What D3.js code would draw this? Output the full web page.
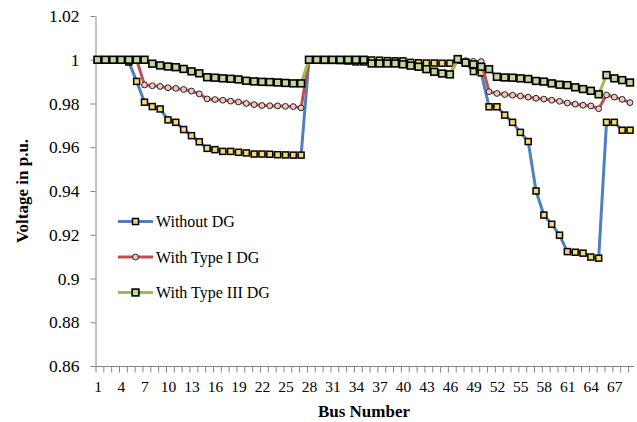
<!DOCTYPE html>
<html>
<head>
<meta charset="utf-8">
<script src="https://cdn.jsdelivr.net/npm/d3@7"></script>
<style>
  body { margin: 0; background: #fff; }
  text { font-family: "Liberation Serif", "Times New Roman", serif; fill: #000; }
</style>
</head>
<body>
<div id="chart"></div>
<script>
// Bus numbers 1..69
const buses = d3.range(1, 70);

// Voltage profiles (p.u.)
const withoutDG = [
  1.0000, 1.0000, 0.9999, 0.9998, 0.9990, 0.9901, 0.9806, 0.9786, 0.9775, 0.9725,
  0.9714, 0.9681, 0.9653, 0.9625, 0.9595, 0.9589, 0.9581, 0.9581, 0.9577, 0.9574,
  0.9569, 0.9569, 0.9568, 0.9566, 0.9565, 0.9564, 0.9564, 0.9999, 0.9999, 0.9997,
  0.9997, 0.9996, 0.9994, 0.9990, 0.9990, 0.9999, 0.9998, 0.9996, 0.9995, 0.9995,
  0.9988, 0.9986, 0.9985, 0.9985, 0.9984, 0.9984, 0.9998, 0.9985, 0.9946, 0.9940,
  0.9785, 0.9785, 0.9747, 0.9714, 0.9668, 0.9626, 0.9400, 0.9290, 0.9248, 0.9198,
  0.9123, 0.9120, 0.9116, 0.9098, 0.9093, 0.9714, 0.9714, 0.9678, 0.9678
];
const withTypeI = [
  1.0000, 1.0000, 1.0000, 1.0000, 1.0000, 1.0000, 0.9885, 0.9881, 0.9878, 0.9872,
  0.9869, 0.9864, 0.9857, 0.9844, 0.9821, 0.9818, 0.9815, 0.9811, 0.9807, 0.9800,
  0.9795, 0.9791, 0.9790, 0.9789, 0.9787, 0.9786, 0.9780, 1.0000, 1.0000, 1.0000,
  1.0000, 1.0000, 1.0000, 1.0000, 1.0000, 0.9984, 0.9984, 0.9984, 0.9984, 0.9979,
  0.9973, 0.9968, 0.9957, 0.9945, 0.9937, 0.9933, 1.0000, 0.9996, 0.9993, 0.9992,
  0.9854, 0.9846, 0.9841, 0.9838, 0.9834, 0.9829, 0.9824, 0.9820, 0.9815, 0.9810,
  0.9802, 0.9797, 0.9792, 0.9789, 0.9776, 0.9839, 0.9829, 0.9819, 0.9804
];
const withTypeIII = [
  1.0000, 1.0000, 1.0000, 1.0000, 1.0000, 1.0000, 1.0000, 0.9982, 0.9974, 0.9969,
  0.9966, 0.9958, 0.9947, 0.9938, 0.9920, 0.9918, 0.9915, 0.9913, 0.9910, 0.9904,
  0.9901, 0.9899, 0.9898, 0.9896, 0.9894, 0.9892, 0.9892, 1.0000, 1.0000, 1.0000,
  1.0000, 1.0000, 1.0000, 1.0000, 1.0000, 0.9983, 0.9983, 0.9983, 0.9983, 0.9979,
  0.9973, 0.9968, 0.9957, 0.9945, 0.9937, 0.9933, 1.0003, 0.9987, 0.9979, 0.9968,
  0.9957, 0.9922, 0.9919, 0.9918, 0.9915, 0.9912, 0.9903, 0.9900, 0.9892, 0.9886,
  0.9884, 0.9874, 0.9866, 0.9858, 0.9842, 0.9930, 0.9915, 0.9907, 0.9896
];

const yTicks = [0.86, 0.88, 0.9, 0.92, 0.94, 0.96, 0.98, 1, 1.02];
const xLabelBuses = d3.range(1, 70, 3);

const seriesNames = ["Without DG", "With Type I DG", "With Type III DG"];

const width = 637, height = 422;
const svg = d3.select("#chart").append("svg")
  .attr("width", width)
  .attr("height", height);

const x = d3.scalePoint().domain(buses).range([97.5, 630]);
const y = d3.scaleLinear().domain([0.86, 1.02]).range([366, 16]);

// y axis
const yAxis = svg.append("g")
  .attr("transform", "translate(95.5,0)")
  .call(d3.axisLeft(y).tickValues(yTicks).tickSize(5).tickSizeOuter(0)
    .tickFormat(d => String(+d.toFixed(2))));
yAxis.selectAll("text").style("font-size", "17.5px").attr("x", -16);
yAxis.selectAll("line, path").attr("stroke", "#868686");

// x axis
const xAxis = svg.append("g")
  .attr("transform", "translate(0,366.5)")
  .call(d3.axisBottom(x).tickValues(buses).tickSize(6).tickSizeOuter(0)
    .tickFormat(d => xLabelBuses.includes(d) ? d : ""));
xAxis.select(".domain").attr("d", "M95.5,0H634");
xAxis.selectAll("line").attr("transform", "translate(-2,0)");
xAxis.selectAll("text").style("font-size", "15.5px").attr("y", 14);
xAxis.selectAll("line, path").attr("stroke", "#868686");

// axis titles
svg.append("text")
  .attr("x", 364).attr("y", 417)
  .attr("text-anchor", "middle")
  .style("font-size", "17px").style("font-weight", "bold")
  .text("Bus Number");
svg.append("text")
  .attr("transform", "translate(28,191) rotate(-90)")
  .attr("text-anchor", "middle")
  .style("font-size", "17px").style("font-weight", "bold")
  .text("Voltage in p.u.");

const line = d3.line().x((d, i) => x(buses[i])).y(d => y(d));

// draw a series line and its markers
function drawSeries(values, color, marker) {
  svg.append("path")
    .datum(values)
    .attr("fill", "none")
    .attr("stroke", color)
    .attr("stroke-width", 3)
    .attr("stroke-linejoin", "round")
    .attr("d", line);
  const g = svg.append("g");
  values.forEach((v, i) => marker(g, x(buses[i]), y(v)));
}

function yellowSquare(g, cx, cy) {
  g.append("rect")
    .attr("x", cx - 3).attr("y", cy - 3)
    .attr("width", 6).attr("height", 6)
    .attr("fill", "#f2cd5c").attr("stroke", "#000").attr("stroke-width", 1.5);
  g.append("path")
    .attr("d", `M${cx - 1.8},${cy - 1.8}L${cx + 1.8},${cy + 1.8}M${cx + 1.8},${cy - 1.8}L${cx - 1.8},${cy + 1.8}`)
    .attr("stroke", "#fbe9a8").attr("stroke-width", 0.8);
}
function pinkCircle(g, cx, cy) {
  g.append("circle")
    .attr("cx", cx).attr("cy", cy).attr("r", 2.9)
    .attr("fill", "#f4c7c6").attr("stroke", "#222").attr("stroke-width", 1);
}
function greenSquare(g, cx, cy) {
  g.append("rect")
    .attr("x", cx - 3.4).attr("y", cy - 3.4)
    .attr("width", 6.8).attr("height", 6.8)
    .attr("fill", "#c3d69b").attr("stroke", "#000").attr("stroke-width", 1.6);
}

const colors = ["#4f81bd", "#c0504d", "#9bbb59"];
const markers = [yellowSquare, pinkCircle, greenSquare];
[withoutDG, withTypeI, withTypeIII].forEach((vals, i) => drawSeries(vals, colors[i], markers[i]));

// legend
const legend = svg.append("g");
seriesNames.forEach((name, i) => {
  const ly = 221.5 + i * 35.5;
  legend.append("line")
    .attr("x1", 118).attr("x2", 153).attr("y1", ly).attr("y2", ly)
    .attr("stroke", colors[i]).attr("stroke-width", 3);
  markers[i](legend, 135.5, ly);
  legend.append("text")
    .attr("x", 156).attr("y", ly + 5.5)
    .style("font-size", "16px")
    .text(name);
});
</script>
</body>
</html>
